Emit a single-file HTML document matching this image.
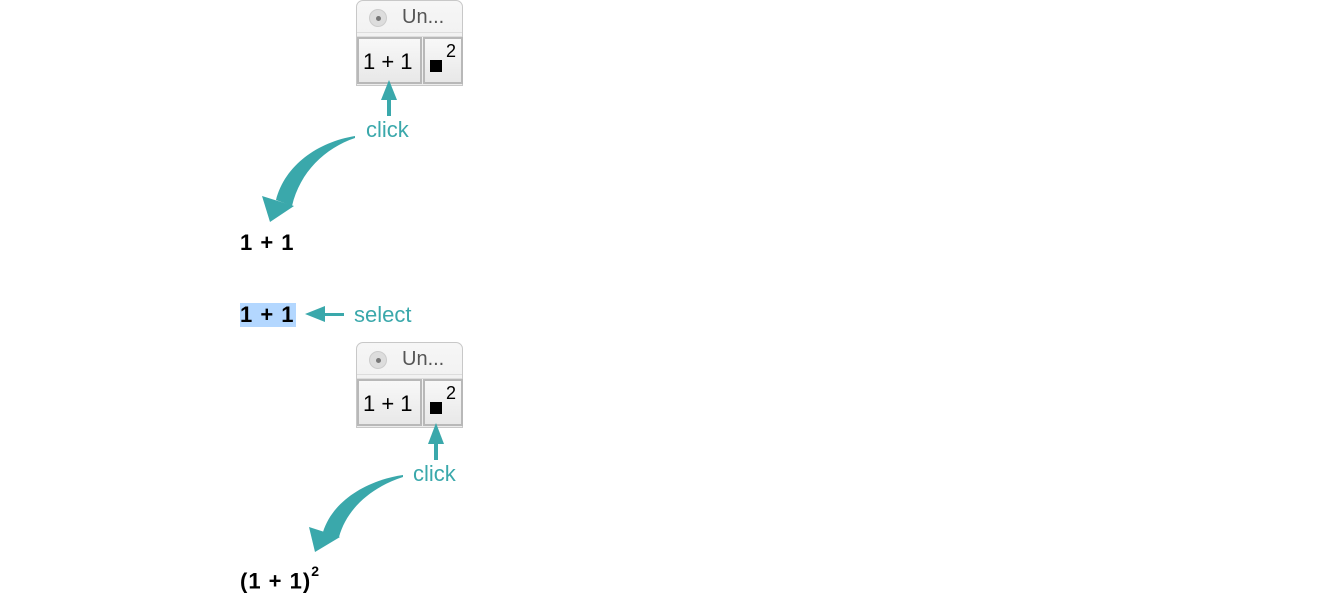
<!DOCTYPE html>
<html><head><style>
body{margin:0;width:1340px;height:602px;background:#fff;position:relative;overflow:hidden;font-family:"Liberation Sans",sans-serif}
.a{position:absolute}
.pal{position:absolute;left:356px;width:107px;height:86px;border:1px solid #c8c8c8;border-radius:7px 7px 0 0;background:linear-gradient(#f6f6f6,#ececec);box-sizing:border-box}
.pal .dot{position:absolute;left:12px;top:8px;width:18px;height:18px;border-radius:50%;background:#ddd;border:1px solid #ccc;box-sizing:border-box}
.pal .dot:after{content:"";position:absolute;left:6px;top:6px;width:5px;height:5px;border-radius:50%;background:#777}
.pal .t{position:absolute;left:45px;top:5px;font-size:20px;color:#555}
.pal .sep{position:absolute;left:0;right:0;top:31px;height:3px;border-top:1px solid #ddd;border-bottom:1px solid #ddd}
.b{position:absolute;top:36px;height:47px;border:2px solid #b8b8b8;box-sizing:border-box;background:linear-gradient(#f8f8f8,#e8e8e8);font-size:22px}
.m{position:absolute;font-weight:bold;font-size:22px;color:#000;letter-spacing:1px}
.c{position:absolute;color:#3aa8ab;font-size:22px}
</style></head><body>
<div class="pal" style="top:0">
 <div class="dot"></div><div class="t">Un...</div><div class="sep"></div>
 <div class="b" style="left:0;width:65px"><span class="a" style="left:4px;top:10px">1 + 1</span></div>
 <div class="b" style="left:66px;width:40px"><span class="a" style="left:5px;top:21px;width:12px;height:12px;background:#000"></span><span class="a" style="left:21px;top:2px;font-size:18px">2</span></div>
</div>
<div class="pal" style="top:342px">
 <div class="dot"></div><div class="t">Un...</div><div class="sep"></div>
 <div class="b" style="left:0;width:65px"><span class="a" style="left:4px;top:10px">1 + 1</span></div>
 <div class="b" style="left:66px;width:40px"><span class="a" style="left:5px;top:21px;width:12px;height:12px;background:#000"></span><span class="a" style="left:21px;top:2px;font-size:18px">2</span></div>
</div>
<svg class="a" style="left:0;top:0" width="1340" height="602">
 <g fill="#3aa8ab" stroke="none">
  <rect x="387" y="96" width="4" height="20"/><polygon points="389,80 381,100 397,100"/>
  <rect x="434" y="440" width="4" height="20"/><polygon points="436,423 428,444 444,444"/>
  <path d="M355,136 C318,142 285,165 276,200 L292,206 C300,172 325,148 355,138Z"/>
  <polygon points="262,196 270,222 294,206"/>
  <path d="M403,475 C368,480 333,500 323,532 L339,537 C347,508 372,487 403,477Z"/>
  <polygon points="309,527 315,552 340,537"/>
  <rect x="322" y="313" width="22" height="3"/><polygon points="305,314 325,306 325,322"/>
 </g>
</svg>
<div class="c" style="left:366px;top:117px">click</div>
<div class="c" style="left:413px;top:461px">click</div>
<div class="c" style="left:354px;top:302px">select</div>
<div class="m" style="left:240px;top:230px">1 + 1</div>
<div class="m" style="left:240px;top:303px;background:#b3d7ff;padding:0 1px 0 0;line-height:24px">1 + 1</div>
<div class="m" style="left:240px;top:567px">(1 + 1)<sup style="font-size:14px;position:relative;top:-4px">2</sup></div>
</body></html>
